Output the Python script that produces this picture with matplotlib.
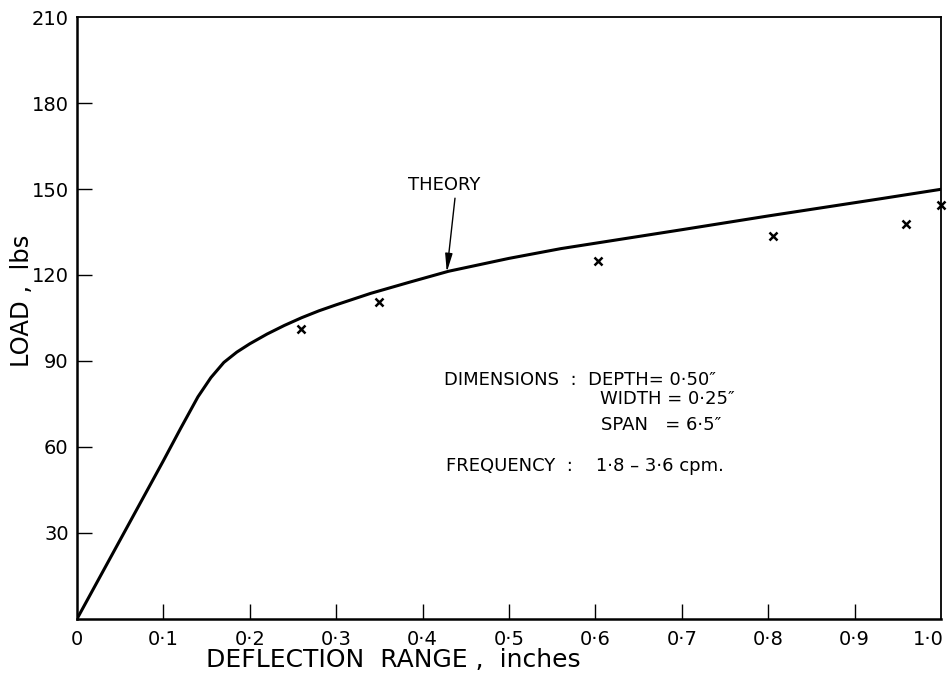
import matplotlib
matplotlib.use("Agg")
import matplotlib.pyplot as plt

# theory curve, load vs deflection
theory_x = [0.0, 0.05, 0.10, 0.12, 0.14, 0.155, 0.17, 0.185, 0.20, 0.22, 0.24, 0.26,
            0.28, 0.30, 0.34, 0.385, 0.43, 0.50, 0.56, 0.70, 0.80, 0.93, 1.0]
theory_y = [0.0, 27.6, 55.2, 66.5, 77.5, 84.2, 89.5, 93.1, 96.0, 99.4, 102.4, 105.1,
            107.5, 109.6, 113.6, 117.5, 121.3, 125.8, 129.2, 135.8, 140.6, 146.6, 149.9]

# measured points
test_x = [0.259, 0.350, 0.603, 0.806, 0.960, 1.0]
test_y = [101.0, 110.6, 125.0, 133.6, 137.7, 144.4]

x_ticks = [0.1, 0.2, 0.3, 0.4, 0.5, 0.6, 0.7, 0.8, 0.9]
y_ticks = [30, 60, 90, 120, 150, 180, 210]

def dot(v):
    return ("%.1f" % v).replace(".", "\u00b7")

plt.rcParams['font.family'] = ['DejaVu Sans']

fig = plt.figure(figsize=(9.49, 6.86), dpi=100)
ax = fig.add_axes([0.0811, 0.0977, 0.9105, 0.8775])

ax.plot(theory_x, theory_y, color='black', lw=2.2, solid_capstyle='round',
        solid_joinstyle='round')
ax.plot(test_x, test_y, 'x', color='black', ms=6, mew=1.8, clip_on=False)

ax.set_xlim(0, 1.0)
ax.set_ylim(0, 210)

ax.set_xticks(x_ticks)
ax.set_xticklabels([dot(v) for v in x_ticks])
ax.set_yticks(y_ticks)
ax.set_yticklabels([str(v) for v in y_ticks])
ax.tick_params(direction='in', length=11, width=1.0, labelsize=14, pad=8)
ax.tick_params(axis='y', pad=6)
# no mark at the top corner, only the label
ax.yaxis.get_major_ticks()[-1].tick1line.set_visible(False)

# end labels at the corners without tick marks
ax.text(0.0, -0.019, "0", transform=ax.get_xaxis_transform(), ha='center', va='top', fontsize=14)
ax.text(0.985, -0.019, dot(1.0), transform=ax.get_xaxis_transform(), ha='center', va='top', fontsize=14)

for side in ['left', 'bottom']:
    ax.spines[side].set_linewidth(1.8)
for side in ['top', 'right']:
    ax.spines[side].set_linewidth(1.3)

ax.text(0.149, -0.0797, "DEFLECTION  RANGE ,  inches", transform=ax.transAxes,
        fontsize=18, ha='left', va='baseline')
ax.text(-0.064, 0.528, "LOAD ,  lbs", transform=ax.transAxes, rotation=90,
        fontsize=17.5, ha='center', va='center')

ax.text(0.425, 151.3, "THEORY", fontsize=13, ha='center', va='center')
ax.annotate("", xy=(0.428, 121.0), xytext=(0.4375, 146.8),
            arrowprops=dict(arrowstyle='-|>,head_length=1.1,head_width=0.22',
                            color='black', lw=1.0, mutation_scale=10,
                            shrinkA=0, shrinkB=0))

ax.text(0.425, 83.4, "DIMENSIONS  :  DEPTH= 0\u00b750\u2033", fontsize=13, va='center')
ax.text(0.605, 76.7, "WIDTH = 0\u00b725\u2033", fontsize=13, va='center')
ax.text(0.607, 67.7, "SPAN   = 6\u00b75\u2033", fontsize=13, va='center')
ax.text(0.427, 53.4, "FREQUENCY  :    1\u00b78 \u2013 3\u00b76 cpm.", fontsize=13, va='center')

fig.savefig("out.png", dpi=100)
